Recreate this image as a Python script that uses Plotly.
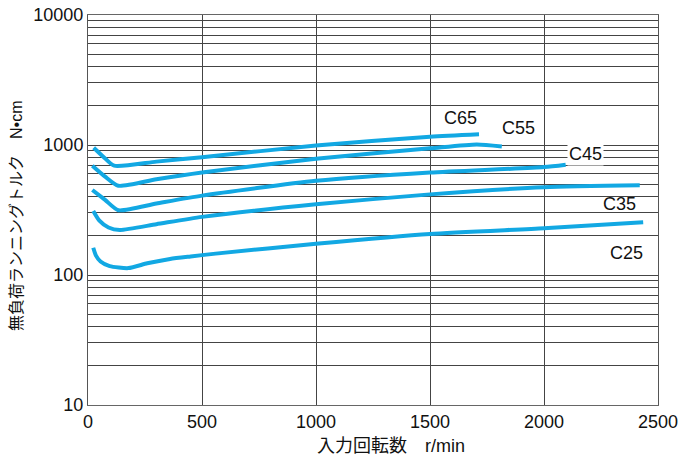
import plotly.graph_objects as go

# ---- data ----
c65_x = [25, 67, 115, 300, 500, 1000, 1500, 1715]
c65_y = [953, 813, 693, 745, 806, 990, 1158, 1209]

c55_x = [19, 75, 133, 300, 500, 1000, 1500, 1705, 1815]
c55_y = [693, 571, 486, 545, 615, 785, 943, 1010, 975]

c45_x = [19, 75, 133, 300, 500, 1000, 1500, 2000, 2095]
c45_y = [451, 378, 315, 355, 408, 530, 614, 676, 706]

c35_x = [23, 50, 90, 140, 300, 500, 1000, 1500, 2000, 2420]
c35_y = [311, 262, 232, 222, 246, 280, 350, 417, 474, 490]

c25_x = [23, 35, 55, 95, 177, 260, 360, 450, 560, 1000, 1500, 2000, 2435]
c25_y = [162, 141, 127, 117, 113, 123, 133, 139, 146, 174, 207, 229, 254]

series = [
    ("C65", c65_x, c65_y),
    ("C55", c55_x, c55_y),
    ("C45", c45_x, c45_y),
    ("C35", c35_x, c35_y),
    ("C25", c25_x, c25_y),
]

x_ticks = [0, 500, 1000, 1500, 2000, 2500]
y_major = [10, 100, 1000, 10000]
y_grid = [m * 10 ** e for e in (1, 2, 3) for m in range(1, 10)] + [10000]

x_title = "入力回転数　r/min"
y_title = "無負荷ランニングトルク　N•cm"

# label anchor positions (x in data units, y in log10 units)
label_pos = {
    "C65": (1632, 3.208),
    "C55": (1886, 3.131),
    "C45": (2180, 2.931),
    "C35": (2329, 2.546),
    "C25": (2360, 2.169),
}

LINE_COLOR = "#12A8E3"
GRID = "#444444"
FONT = "Liberation Sans, Arial, Noto Sans CJK JP, sans-serif"

W, H = 682, 459
PLOT_L, PLOT_R, PLOT_T, PLOT_B = 88, 658, 15, 405

fig = go.Figure()
for name, xs, ys in series:
    fig.add_trace(go.Scatter(
        x=xs, y=ys, mode="lines", name=name,
        line=dict(color=LINE_COLOR, width=4, shape="spline", smoothing=0.6),
        showlegend=False, hoverinfo="skip",
    ))

for name, (lx, ly) in label_pos.items():
    fig.add_annotation(
        x=lx, y=ly, xref="x", yref="y", text=name, showarrow=False,
        font=dict(size=18, color="#111111", family=FONT),
        bgcolor="white" if name == "C45" else None, borderpad=1,
        xanchor="center", yanchor="middle",
    )

pw = PLOT_R - PLOT_L
ph = PLOT_B - PLOT_T
fig.add_annotation(
    x=(391 - PLOT_L) / pw, y=(PLOT_B - 446) / ph, xref="paper", yref="paper",
    text=x_title, showarrow=False, xanchor="center", yanchor="middle",
    font=dict(size=18, color="#111111", family=FONT),
)
fig.add_annotation(
    x=(17 - PLOT_L) / pw, y=(PLOT_B - 216) / ph, xref="paper", yref="paper",
    text=y_title, showarrow=False, xanchor="center", yanchor="middle",
    textangle=-90, font=dict(size=16, color="#111111", family=FONT),
)

fig.update_xaxes(
    range=[0, 2500], tickvals=x_ticks, ticktext=[str(v) for v in x_ticks],
    showgrid=True, gridcolor=GRID, gridwidth=1, zeroline=False,
    showline=True, linecolor="#666666", linewidth=1, mirror=True, ticks="",
    tickfont=dict(size=18, color="#111111", family=FONT), automargin=False,
    ticklabeloverflow="allow",
)
fig.update_yaxes(
    type="log", range=[1, 4], tickvals=y_grid,
    ticktext=[str(v) if v in y_major else "" for v in y_grid],
    showgrid=True, gridcolor=GRID, gridwidth=1, zeroline=False,
    showline=True, linecolor="#555555", linewidth=1, mirror=True, ticks="",
    tickfont=dict(size=18, color="#111111", family=FONT), automargin=False,
    ticklabeloverflow="allow",
)

fig.update_layout(
    width=W, height=H,
    margin=dict(l=PLOT_L, r=W - PLOT_R, t=PLOT_T, b=H - PLOT_B, autoexpand=False),
    paper_bgcolor="white", plot_bgcolor="white",
    font=dict(family=FONT),
)

# remove the default page margin so the figure fills the window exactly
fig.write_html(
    "out.html",
    config={"displayModeBar": False},
    post_script="document.body.style.margin='0';document.body.style.overflow='hidden';",
)
